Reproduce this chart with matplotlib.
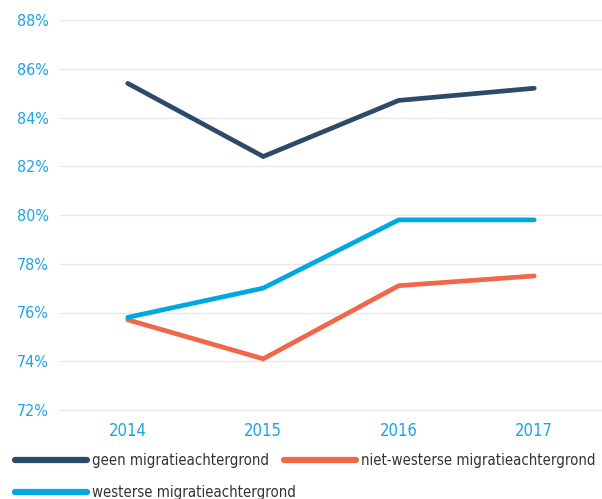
import matplotlib
matplotlib.use("Agg")
import matplotlib.pyplot as plt
from matplotlib.lines import Line2D

years = ["2014", "2015", "2016", "2017"]
geen = [85.4, 82.4, 84.7, 85.2]
niet_westers = [75.7, 74.1, 77.1, 77.5]
westers = [75.8, 77.0, 79.8, 79.8]
labels = ["geen migratieachtergrond", "niet-westerse migratieachtergrond", "westerse migratieachtergrond"]
colors = ["#2e4a6b", "#f0674a", "#00a8e1"]

plt.rcParams["font.family"] = ["DejaVu Sans"]
plt.rcParams["font.stretch"] = "condensed"

W, H = 602, 499
fig = plt.figure(figsize=(W / 100, H / 100), dpi=100)
ax = fig.add_axes([60 / W, 1 - 410 / H, 1 - 60 / W, 390 / H])

x = range(len(years))
for vals, lab, c in zip([geen, niet_westers, westers], labels, colors):
    ax.plot(x, vals, color=c, lw=3.4, label=lab,
            solid_capstyle="round", solid_joinstyle="miter")

ax.set_xlim(-0.5, 3.5)
ax.set_ylim(72, 88)
ax.set_yticks(range(72, 89, 2))
ax.set_yticklabels([f"{v}%" for v in range(72, 89, 2)])
ax.set_xticks(list(x))
ax.set_xticklabels(years)
ax.tick_params(axis="x", length=0, labelsize=12, colors="#1ca5e2", pad=9)
ax.tick_params(axis="y", length=0, labelsize=11.5, colors="#1ca5e2", pad=8)
for s in ax.spines.values():
    s.set_visible(False)
ax.grid(axis="y", color="#e8e8e8", lw=1.0)
for gl in ax.get_ygridlines():
    gl.set_clip_on(False)
ax.set_axisbelow(True)

# legend laid out by hand: two entries on the first row, one on the second
slots = [(15, 460), (284, 460), (15, 492)]
for (px, py), lab, c in zip(slots, labels, colors):
    y = 1 - py / H
    fig.add_artist(Line2D([px / W, (px + 72) / W], [y, y], color=c, lw=4.5,
                          solid_capstyle="round", transform=fig.transFigure))
    fig.text((px + 77) / W, y, lab, fontsize=10.7, color="#333333", va="center", ha="left")

fig.savefig("out.png", dpi=100)
